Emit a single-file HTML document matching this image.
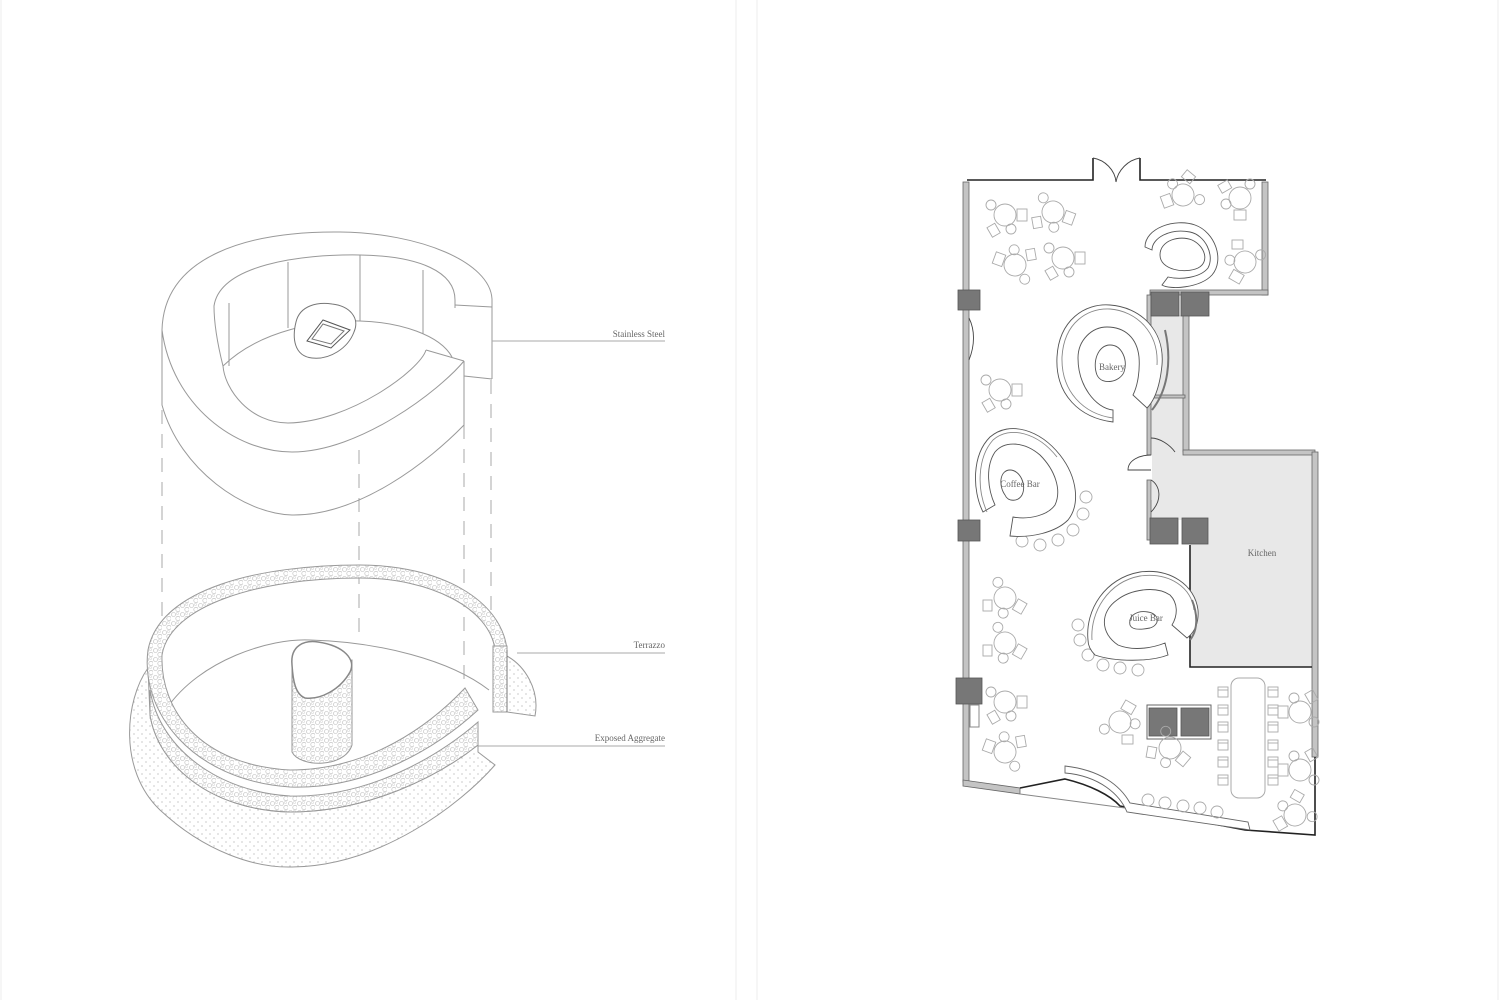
<!DOCTYPE html>
<html><head><meta charset="utf-8"><style>
html,body{margin:0;padding:0;background:#fff;width:1500px;height:1000px;overflow:hidden}
svg{display:block}
text{font-family:"Liberation Serif",serif;fill:#666}
</style></head><body>
<svg width="1500" height="1000" viewBox="0 0 1500 1000" xmlns="http://www.w3.org/2000/svg">
<defs>
<pattern id="terr" width="9" height="9" patternUnits="userSpaceOnUse">
<rect width="9" height="9" fill="#fff"/>
<circle cx="2.5" cy="2.5" r="2" fill="none" stroke="#bbb" stroke-width="0.6"/>
<circle cx="7" cy="6.5" r="2.2" fill="none" stroke="#bbb" stroke-width="0.6"/>
<circle cx="6.5" cy="1.5" r="1.2" fill="none" stroke="#ccc" stroke-width="0.5"/>
</pattern>
<pattern id="dots" width="8" height="8" patternUnits="userSpaceOnUse">
<rect width="8" height="8" fill="#fff"/>
<circle cx="2" cy="2" r="0.6" fill="#aaa"/>
<circle cx="6" cy="6" r="0.6" fill="#aaa"/>
</pattern>
<g id="tb" fill="none" stroke="#aaa" stroke-width="0.9">
<circle r="11"/>
<circle cx="-14" cy="-10" r="5"/>
<circle cx="6" cy="14" r="5"/>
<rect x="12" y="-6" width="10" height="12"/>
<rect x="-22" y="2" width="9" height="11" transform="rotate(-30)"/>
</g>
<g id="st" fill="none" stroke="#aaa" stroke-width="0.9"><circle r="6"/></g>
<g id="ch" fill="none" stroke="#aaa" stroke-width="0.9"><rect x="-5" y="-5" width="10" height="10"/><line x1="-5" y1="-2" x2="5" y2="-2"/></g>
</defs>

<line x1="1" y1="0" x2="1" y2="1000" stroke="#eee"/>
<line x1="736" y1="0" x2="736" y2="1000" stroke="#eee"/>
<line x1="757" y1="0" x2="757" y2="1000" stroke="#eee"/>
<line x1="1498" y1="0" x2="1498" y2="1000" stroke="#eee"/>

<!-- ============ LEFT ============ -->
<g fill="none" stroke="#999" stroke-width="1">
<g stroke-dasharray="14,10" stroke="#aaa">
<line x1="162" y1="410" x2="162" y2="620"/>
<line x1="359" y1="450" x2="359" y2="640"/>
<line x1="464" y1="425" x2="464" y2="700"/>
<line x1="491" y1="380" x2="491" y2="640"/>
</g>
<path d="M162,330 C164,255 250,231 340,232 C420,233 490,262 492,299"/>
<path d="M492,299 L492,379"/>
<path d="M455,305 L492,307"/>
<path d="M464,376 L492,379"/>
<path d="M162,330 C172,405 235,452 292,452 C360,452 440,390 464,361"/>
<path d="M464,361 L426,350"/>
<path d="M426,350 C420,370 350,422 288,423 C250,423 225,390 223,366"/>
<path d="M223,366 C214,330 214,310 214,306 C220,265 300,254 360,255 C420,256 455,272 455,300 L455,308"/>
<path d="M223,366 C260,330 320,320 360,321 C400,322 440,335 452,357"/>
<path d="M162,330 L162,405 C180,470 245,514 292,515 C360,516 430,460 464,425 L464,361"/>
<line x1="229" y1="303" x2="229" y2="366"/>
<line x1="288" y1="262" x2="288" y2="328"/>
<line x1="360" y1="255" x2="360" y2="321"/>
<line x1="423" y1="270" x2="423" y2="334"/>
<path d="M296,322 C300,305 318,302 332,304 C350,306 360,318 354,332 C348,348 330,360 312,358 C294,356 292,338 296,322 Z" fill="#fff" stroke="#777"/>
<path d="M323,320 L350,330 L331,348 L307,341 Z" stroke="#555"/>
<path d="M323,324 L344,331 L331,344 L312,339 Z" stroke="#777"/>
<line x1="492" y1="341" x2="665" y2="341" stroke="#aaa"/>
<line x1="517" y1="653" x2="665" y2="653" stroke="#aaa"/>
<line x1="477" y1="746" x2="665" y2="746" stroke="#aaa"/>

<!-- aggregate base -->
<path d="M148,668 C125,700 118,770 160,810 C205,852 255,868 292,867 C380,866 460,805 495,765 L478,752 L478,745 C440,775 370,812 290,812 C210,810 158,765 150,715 Z" fill="url(#dots)" stroke="#999"/>
<path d="M505,655 C525,665 540,690 535,716 L507,712 Z" fill="url(#dots)"/>
<!-- floor -->
<path d="M167,708 C200,660 270,638 310,640 C380,642 450,660 489,690"/>
<!-- terrazzo front side face -->
<path d="M150,690 C160,750 220,792 290,796 C370,798 440,755 478,722 L478,745 C440,775 370,812 290,812 C210,810 158,765 150,715 Z" fill="url(#terr)"/>
<!-- terrazzo ring -->
<path d="M507,650 C502,600 440,565 360,565 C260,565 160,588 148,650 C140,710 190,780 290,787 C370,790 440,745 478,710 L465,688 C430,725 370,770 290,770 C200,765 160,710 162,655 C170,605 260,578 360,578 C430,578 490,608 495,650 Z" fill="url(#terr)" stroke="#999"/>
<rect x="493" y="646" width="14" height="66" fill="url(#terr)"/>
<line x1="507" y1="650" x2="507" y2="712" stroke="#777"/>
<!-- pedestal -->
<path d="M292,665 L292,752 C300,768 345,768 352,745 L352,660 Z" fill="url(#terr)" stroke="#999"/>
<path d="M292,665 C290,645 305,640 318,642 C345,646 356,660 350,672 C340,690 320,700 305,698 C295,694 293,680 292,665 Z" fill="#fff" stroke="#888" stroke-width="1.5"/>
</g>
<text x="665" y="337" font-size="9" text-anchor="end">Stainless Steel</text>
<text x="665" y="648" font-size="9" text-anchor="end">Terrazzo</text>
<text x="665" y="741" font-size="9" text-anchor="end">Exposed Aggregate</text>

<!-- ============ RIGHT ============ -->
<rect x="1151" y="315" width="34" height="205" fill="#e8e8e8"/>
<rect x="1151" y="452" width="39" height="68" fill="#e8e8e8"/>
<rect x="1190" y="452" width="125" height="215" fill="#e8e8e8"/>
<rect x="1130" y="455" width="22" height="45" fill="#fff"/>
<g fill="#c4c4c4" stroke="#666" stroke-width="0.8">
<rect x="963" y="182" width="6" height="600"/>
<path d="M963,780 L1020,788 L1020,794 L963,786 Z"/>
<rect x="1262" y="182" width="6" height="113"/>
<rect x="1150" y="290" width="118" height="5"/>
<rect x="1183" y="315" width="6" height="137"/>
<rect x="1147" y="295" width="4" height="160"/>
<rect x="1147" y="480" width="4" height="60"/>
<rect x="1183" y="450" width="132" height="5"/>
<rect x="1312" y="452" width="6" height="305"/>
<rect x="1151" y="395" width="34" height="3"/>
</g>
<g stroke="#222" stroke-width="1.6" fill="none">
<path d="M967,180 L1093,180 L1093,158"/>
<path d="M1140,158 L1140,180 L1266,180"/>
<path d="M1190,545 L1190,667 L1312,667"/>
<path d="M1020,788 L1065,779 C1090,785 1110,795 1120,806 L1245,830 L1315,835 L1315,757"/>
</g>
<g stroke="#444" stroke-width="0.9" fill="none">
<path d="M1093,158 C1105,160 1115,170 1116,182"/>
<path d="M1140,158 C1128,160 1118,170 1116,182"/>
<line x1="1020" y1="794" x2="1125" y2="808" stroke="#888"/>
<path d="M1065,773 C1100,776 1120,795 1127,812 L1250,830 L1248,822 L1130,803 C1120,785 1100,770 1065,766 Z" fill="#fff" stroke="#666"/>
<path d="M1151,455 C1140,455 1128,460 1128,470 L1151,470"/>
<path d="M1151,438 C1160,438 1170,445 1175,452"/>
<path d="M1151,480 C1160,485 1163,500 1151,512"/>
<path d="M969,318 C975,330 975,345 969,360"/>
</g>
<g fill="#777" stroke="#555" stroke-width="0.8">
<rect x="958" y="290" width="22" height="20"/>
<rect x="958" y="520" width="22" height="21"/>
<rect x="956" y="678" width="26" height="26"/>
<rect x="1151" y="292" width="28" height="24"/>
<rect x="1181" y="292" width="28" height="24"/>
<rect x="1150" y="518" width="28" height="26"/>
<rect x="1182" y="518" width="26" height="26"/>
<rect x="1149" y="708" width="28" height="28"/>
<rect x="1181" y="708" width="28" height="28"/>
</g>
<rect x="1147" y="705" width="64" height="34" fill="none" stroke="#666"/>
<rect x="970" y="705" width="9" height="22" fill="none" stroke="#888"/>

<use href="#tb" x="1005" y="215"/>
<use href="#tb" x="1053" y="212" transform="rotate(20 1053 212)"/>
<use href="#tb" x="1015" y="265" transform="rotate(200 1015 265)"/>
<use href="#tb" x="1063" y="258"/>
<use href="#tb" x="1240" y="198" transform="rotate(90 1240 198)"/>
<use href="#tb" x="1183" y="195" transform="rotate(160 1183 195)"/>
<use href="#tb" x="1245" y="262" transform="rotate(120 1245 262)"/>
<use href="#tb" x="1000" y="390"/>
<use href="#tb" x="1005" y="598" transform="rotate(30 1005 598)"/>
<use href="#tb" x="1005" y="643" transform="rotate(30 1005 643)"/>
<use href="#tb" x="1005" y="702"/>
<use href="#tb" x="1005" y="752" transform="rotate(200 1005 752)"/>
<use href="#tb" x="1120" y="722" transform="rotate(-60 1120 722)"/>
<use href="#tb" x="1170" y="748" transform="rotate(40 1170 748)"/>
<use href="#tb" x="1300" y="712" transform="rotate(180 1300 712)"/>
<use href="#tb" x="1300" y="770" transform="rotate(180 1300 770)"/>
<use href="#tb" x="1295" y="815" transform="rotate(150 1295 815)"/>
<use href="#st" x="1022" y="541"/><use href="#st" x="1040" y="545"/><use href="#st" x="1058" y="540"/><use href="#st" x="1073" y="530"/><use href="#st" x="1083" y="514"/><use href="#st" x="1086" y="497"/>
<use href="#st" x="1078" y="625"/><use href="#st" x="1080" y="640"/><use href="#st" x="1088" y="655"/><use href="#st" x="1103" y="665"/><use href="#st" x="1120" y="668"/><use href="#st" x="1138" y="670"/>
<use href="#st" x="1148" y="800"/><use href="#st" x="1165" y="803"/><use href="#st" x="1183" y="806"/><use href="#st" x="1200" y="808"/><use href="#st" x="1217" y="812"/>
<rect x="1231" y="678" width="34" height="120" rx="8" fill="none" stroke="#aaa"/>
<use href="#ch" x="1223" y="692"/><use href="#ch" x="1223" y="710"/><use href="#ch" x="1223" y="727"/><use href="#ch" x="1223" y="745"/><use href="#ch" x="1223" y="762"/><use href="#ch" x="1223" y="780"/>
<use href="#ch" x="1273" y="692"/><use href="#ch" x="1273" y="710"/><use href="#ch" x="1273" y="727"/><use href="#ch" x="1273" y="745"/><use href="#ch" x="1273" y="762"/><use href="#ch" x="1273" y="780"/>

<g fill="#fff" stroke="#555" stroke-width="0.9">
<path d="M1145,247 C1145,228 1175,218 1195,225 C1215,232 1225,260 1212,275 C1200,288 1170,290 1162,285 L1168,277 C1180,280 1200,278 1208,268 C1215,255 1205,235 1190,232 C1170,228 1152,238 1152,250 Z"/>
<path d="M1160,255 C1160,240 1180,235 1192,240 C1205,246 1210,262 1198,268 C1185,274 1160,270 1160,255 Z" fill="none"/>
<path d="M1113,422 C1080,418 1055,395 1057,357 C1059,320 1085,303 1110,305 C1140,307 1165,330 1162,365 C1160,385 1155,400 1147,408 L1133,395 C1138,385 1140,370 1139,357 C1137,338 1125,327 1107,327 C1092,327 1078,340 1078,358 C1078,385 1095,408 1113,410 Z"/>
<path d="M1113,418 C1084,414 1061,392 1062,357 C1064,322 1088,308 1110,309 C1137,311 1159,333 1157,365" fill="none" stroke="#888"/>
<path d="M1097,375 C1092,362 1098,345 1110,345 C1122,345 1128,360 1124,372 C1120,382 1102,386 1097,375 Z" fill="none"/>
<path d="M1165,330 C1172,360 1168,390 1152,410" fill="none" stroke="#777" stroke-width="2"/>
<path d="M983,512 C972,490 972,455 990,437 C1010,420 1040,430 1060,455 C1078,478 1080,505 1068,520 C1055,533 1030,538 1010,536 L1013,517 C1030,520 1048,515 1055,505 C1062,490 1055,470 1040,455 C1025,442 1005,440 995,452 C985,467 988,490 995,505 Z"/>
<path d="M987,512 C977,490 977,458 993,440 C1010,425 1038,433 1057,457" fill="none" stroke="#888"/>
<path d="M1005,495 C998,485 1000,470 1010,470 C1020,470 1027,485 1022,495 C1018,502 1008,502 1005,495 Z" fill="none"/>
<path d="M1088,640 C1085,610 1105,578 1140,572 C1170,568 1195,585 1198,610 C1199,622 1195,632 1187,638 L1172,625 C1178,615 1178,603 1170,595 C1155,585 1130,590 1117,600 C1100,612 1100,633 1118,645 C1135,652 1155,647 1165,643 L1168,655 C1150,662 1115,662 1095,655 C1090,650 1088,645 1088,640 Z"/>
<path d="M1092,640 C1090,612 1108,582 1140,576 C1170,572 1192,588 1194,610" fill="none" stroke="#888"/>
<path d="M1130,625 C1128,615 1138,610 1148,612 C1160,614 1160,625 1150,628 C1140,630 1132,630 1130,625 Z" fill="none"/>
<path d="M1192,600 C1198,615 1198,630 1190,640" fill="none" stroke="#777" stroke-width="2"/>
</g>
<text x="1112" y="370" font-size="9" text-anchor="middle">Bakery</text>
<text x="1020" y="487" font-size="9" text-anchor="middle">Coffee Bar</text>
<text x="1146" y="621" font-size="9" text-anchor="middle">Juice Bar</text>
<text x="1262" y="556" font-size="9" text-anchor="middle">Kitchen</text>
</svg>
</body></html>
